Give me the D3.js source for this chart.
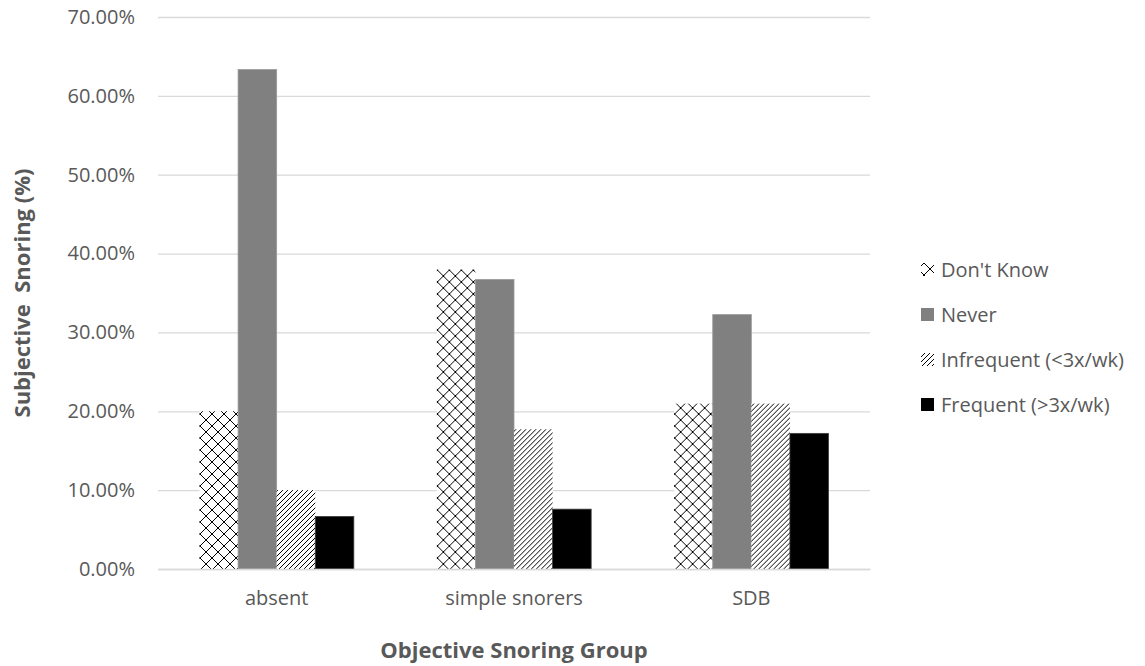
<!DOCTYPE html>
<html>
<head>
<meta charset="utf-8">
<script src="https://cdn.jsdelivr.net/npm/d3@7/dist/d3.min.js"></script>
<style>
  html, body { margin: 0; padding: 0; background: #fff; }
  svg { display: block; font-family: "Open Sans", sans-serif; }
</style>
</head>
<body>
<svg id="chart" width="1145" height="666"></svg>
<script>
// Objective snoring groups (x-axis categories)
const groups = ["absent", "simple snorers", "SDB"];
// Subjective snoring answers (legend series)
const series = ["Don't Know", "Never", "Infrequent (<3x/wk)", "Frequent (>3x/wk)"];
// Percent of each group giving each answer, one array per series
const dontKnow   = [0.2000, 0.3797, 0.2097];
const never      = [0.6333, 0.3671, 0.3226];
const infrequent = [0.1000, 0.1772, 0.2097];
const frequent   = [0.0667, 0.0759, 0.1720];
const seriesValues = [dontKnow, never, infrequent, frequent];
// Y-axis ticks
const yTicks = [0, 0.1, 0.2, 0.3, 0.4, 0.5, 0.6, 0.7];

const textColor = "#595959";
const gridColor = "#d9d9d9";

const svg = d3.select("#chart");

const plot = { left: 158, right: 870, top: 17, bottom: 569 };

const x0 = d3.scaleBand().domain(groups).range([plot.left, plot.right]).padding(0);
const x1 = d3.scaleBand().domain(series).range([0, x0.bandwidth()])
  .paddingInner(0).paddingOuter(1.075);
const y = d3.scaleLinear().domain([0, 0.7]).range([plot.bottom, plot.top]);

// Fill patterns: a wide diagonal cross and a dark upward diagonal
const defs = svg.append("defs");
function crossPattern(id, ox, oy) {
  const p = defs.append("pattern").attr("id", id)
    .attr("patternUnits", "userSpaceOnUse").attr("width", 12).attr("height", 12)
    .attr("x", ox).attr("y", oy);
  p.append("rect").attr("width", 12).attr("height", 12).attr("fill", "#fff");
  p.append("path").attr("d", "M0,0 L12,12 M12,0 L0,12")
    .attr("stroke", "#000").attr("stroke-width", 1.25).attr("shape-rendering", "crispEdges");
}
function diagPattern(id, ox, oy) {
  const p = defs.append("pattern").attr("id", id)
    .attr("patternUnits", "userSpaceOnUse").attr("width", 5).attr("height", 5)
    .attr("x", ox).attr("y", oy);
  p.append("rect").attr("width", 5).attr("height", 5).attr("fill", "#fff");
  p.append("path").attr("d", "M-1,6 L6,-1 M-1,1 L1,-1 M4,6 L6,4")
    .attr("stroke", "#000").attr("stroke-width", 1.2).attr("shape-rendering", "crispEdges");
}
crossPattern("pat-cross", 0, 0);
diagPattern("pat-diag", 0, 0);
// Legend swatches: same fills, phase set so the cross sits in the middle
crossPattern("pat-cross-key", 3, 5);
diagPattern("pat-diag-key", 1, 1);

const fills = ["url(#pat-cross)", "#808080", "url(#pat-diag)", "#000000"];
const keyFills = ["url(#pat-cross-key)", "#808080", "url(#pat-diag-key)", "#000000"];
const strokes = ["none", "#9a9a9a", "none", "#404040"];

// Gridlines and y tick labels
const yAxis = d3.axisLeft(y).tickValues(yTicks)
  .tickFormat(d => (d * 100).toFixed(2) + "%")
  .tickSize(-(plot.right - plot.left)).tickPadding(23);
const gy = svg.append("g").attr("transform", `translate(${plot.left},0)`).call(yAxis);
gy.select(".domain").remove();
gy.selectAll(".tick line").attr("stroke", gridColor).attr("stroke-width", 1.3);
gy.selectAll(".tick text").attr("fill", textColor).attr("font-size", 20)
  .attr("font-family", "'Open Sans', sans-serif");

// Bars
const gGroups = svg.append("g").selectAll("g").data(groups).join("g")
  .attr("transform", d => `translate(${x0(d)},0)`);
gGroups.selectAll("rect")
  .data((g, gi) => series.map((s, si) => ({ s, si, v: seriesValues[si][gi] })))
  .join("rect")
  .attr("x", d => x1(d.s))
  .attr("width", x1.bandwidth())
  .attr("y", d => y(d.v))
  .attr("height", d => y(0) - y(d.v))
  .attr("fill", d => fills[d.si])
  .attr("stroke", d => strokes[d.si])
  .attr("stroke-width", 0.8);

// X axis
const xAxis = d3.axisBottom(x0).tickSize(0).tickPadding(22);
const gx = svg.append("g").attr("transform", `translate(0,${plot.bottom})`).call(xAxis);
gx.select(".domain").attr("stroke", gridColor).attr("stroke-width", 1.3);
gx.selectAll(".tick text").attr("fill", textColor).attr("font-size", 20)
  .attr("font-family", "'Open Sans', sans-serif");

// Axis titles
svg.append("text")
  .attr("x", (plot.left + plot.right) / 2).attr("y", 658)
  .attr("text-anchor", "middle").attr("fill", textColor)
  .attr("font-size", 22).attr("font-weight", "bold")
  .text("Objective Snoring Group");

svg.append("text")
  .attr("transform", `translate(30,${(plot.top + plot.bottom) / 2}) rotate(-90)`)
  .attr("text-anchor", "middle").attr("fill", textColor)
  .attr("font-size", 22).attr("font-weight", "bold")
  .attr("xml:space", "preserve")
  .style("white-space", "pre")
  .text("Subjective  Snoring (%)");

// Legend
const legend = svg.append("g").attr("transform", "translate(921,270)");
const items = legend.selectAll("g").data(series).join("g")
  .attr("transform", (d, i) => `translate(0,${i * 45})`);
items.append("rect").attr("x", 0).attr("y", -7).attr("width", 13).attr("height", 13)
  .attr("fill", (d, i) => keyFills[i]);
items.append("text").attr("x", 20).attr("y", 0).attr("dy", "0.35em")
  .attr("fill", textColor).attr("font-size", 20)
  .text(d => d);
</script>
</body>
</html>
